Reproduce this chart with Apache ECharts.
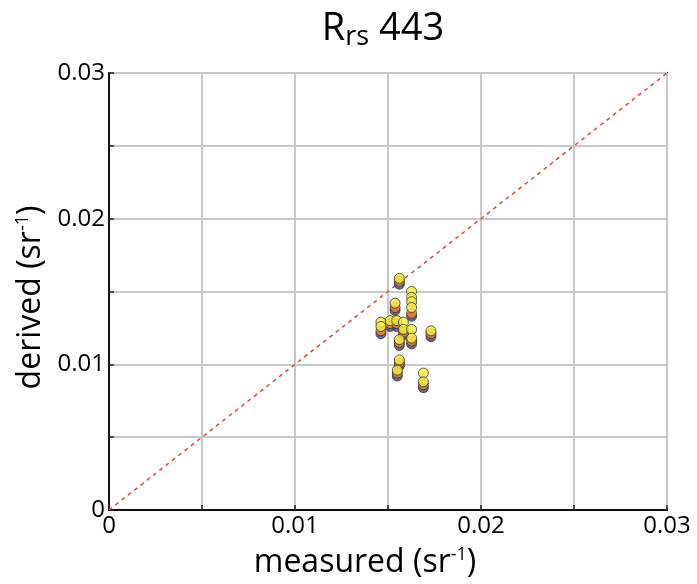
<!DOCTYPE html>
<html><head><meta charset="utf-8">
<script src="https://cdn.jsdelivr.net/npm/echarts@6/dist/echarts.min.js"></script>
<style>html,body{margin:0;padding:0;background:#fff}#c{width:697px;height:584px}</style>
</head><body><div id="c"></div>
<script>
const xTickLabels = ['0', '0.01', '0.02', '0.03'];
const yTickLabels = ['0', '0.01', '0.02', '0.03'];
const oneToOne = [[0, 0], [0.03, 0.03]];

const yellowMeasured = [0.01561, 0.01627, 0.01627, 0.01627, 0.01627, 0.01538, 0.01462, 0.01462, 0.01511, 0.01547, 0.01583, 0.01583, 0.01627, 0.01627, 0.01561, 0.01731, 0.01561, 0.0155, 0.0169, 0.0169];
const yellowDerived  = [0.0159, 0.0150, 0.0146, 0.0143, 0.0139, 0.0142, 0.0129, 0.0126, 0.0130, 0.0130, 0.0129, 0.0124, 0.0124, 0.0118, 0.0117, 0.0123, 0.0103, 0.0096, 0.0094, 0.0088];

const orangeMeasured = [0.01561, 0.01627, 0.01538, 0.01462, 0.01511, 0.01547, 0.01583, 0.01627, 0.01561, 0.01731, 0.01561, 0.0155, 0.0169];
const orangeDerived  = [0.0157, 0.0135, 0.0139, 0.0123, 0.0128, 0.0128, 0.0122, 0.0116, 0.0115, 0.0121, 0.0101, 0.0094, 0.0086];

const darkMeasured = [0.01561, 0.01627, 0.01538, 0.01462, 0.01511, 0.01547, 0.01583, 0.01627, 0.01561, 0.01731, 0.01561, 0.0155, 0.0169];
const darkDerived  = [0.0155, 0.0133, 0.0137, 0.0121, 0.0126, 0.0126, 0.0120, 0.0114, 0.0113, 0.0119, 0.0099, 0.0092, 0.0084];

const zip = (a, b) => a.map((v, i) => [v, b[i]]);
const FONT = 'Open Sans';
function fmt(labels) {
  return function (v) {
    const k = v * 100;
    if (Math.abs(k - Math.round(k)) < 1e-6) return labels[Math.round(k)] || '';
    return '';
  };
}
const supRich = {
  sup: { fontFamily: FONT, fontSize: 18, padding: [0, 0, 16, 0], color: '#000' }
};
const pointStyle = (c) => ({ color: c, borderColor: '#333', borderWidth: 1 });

const chart = echarts.init(document.getElementById('c'));
chart.setOption({
  animation: false,
  title: {
    text: 'R{sub|rs} 443',
    left: 378, top: 3, textAlign: 'center',
    textStyle: {
      fontFamily: FONT, fontSize: 38, fontWeight: 'normal', color: '#000',
      rich: { sub: { fontFamily: FONT, fontSize: 27, padding: [16, 0, 0, 0], color: '#000' } }
    }
  },
  grid: { left: 109, right: 30, top: 73, bottom: 72, show: true, borderColor: '#333', borderWidth: 2, backgroundColor: 'transparent' },
  xAxis: {
    type: 'value', min: 0, max: 0.03, interval: 0.005,
    name: 'measured (sr{sup|-1})', nameLocation: 'middle', nameGap: 36,
    nameTextStyle: { fontFamily: FONT, fontSize: 32, color: '#000', rich: supRich, padding: [0, 46, 0, 0] },
    axisLine: { lineStyle: { color: '#111', width: 2 } },
    axisTick: { inside: true, length: 5, lineStyle: { color: '#222', width: 1.5 } },
    splitLine: { show: true, lineStyle: { color: '#c8c8c8', width: 2 } },
    axisLabel: { formatter: fmt(xTickLabels), fontFamily: FONT, fontSize: 24, color: '#000', margin: 4 }
  },
  yAxis: {
    type: 'value', min: 0, max: 0.03, interval: 0.005,
    name: 'derived (sr{sup|-1})', nameLocation: 'middle', nameGap: 60,
    nameTextStyle: { fontFamily: FONT, fontSize: 32, color: '#000', rich: supRich, padding: [0, 12, 0, 0] },
    axisLine: { lineStyle: { color: '#111', width: 2 } },
    axisTick: { inside: true, length: 5, lineStyle: { color: '#222', width: 1.5 } },
    splitLine: { show: true, lineStyle: { color: '#c8c8c8', width: 2 } },
    axisLabel: { formatter: fmt(yTickLabels), fontFamily: FONT, fontSize: 24, color: '#000', margin: 4 }
  },
  series: [
    { type: 'line', data: oneToOne, symbol: 'none', lineStyle: { color: '#e8463a', width: 1.5, type: [4, 4] }, z: 1 },
    { type: 'scatter', data: zip(darkMeasured, darkDerived), symbolSize: 10, itemStyle: pointStyle('#4a3d6e'), z: 2 },
    { type: 'scatter', data: zip(orangeMeasured, orangeDerived), symbolSize: 10, itemStyle: pointStyle('#f08a1c'), z: 3 },
    { type: 'scatter', data: zip(yellowMeasured, yellowDerived), symbolSize: 10, itemStyle: pointStyle('#f7ee3b'), z: 4 }
  ]
});
</script></body></html>
